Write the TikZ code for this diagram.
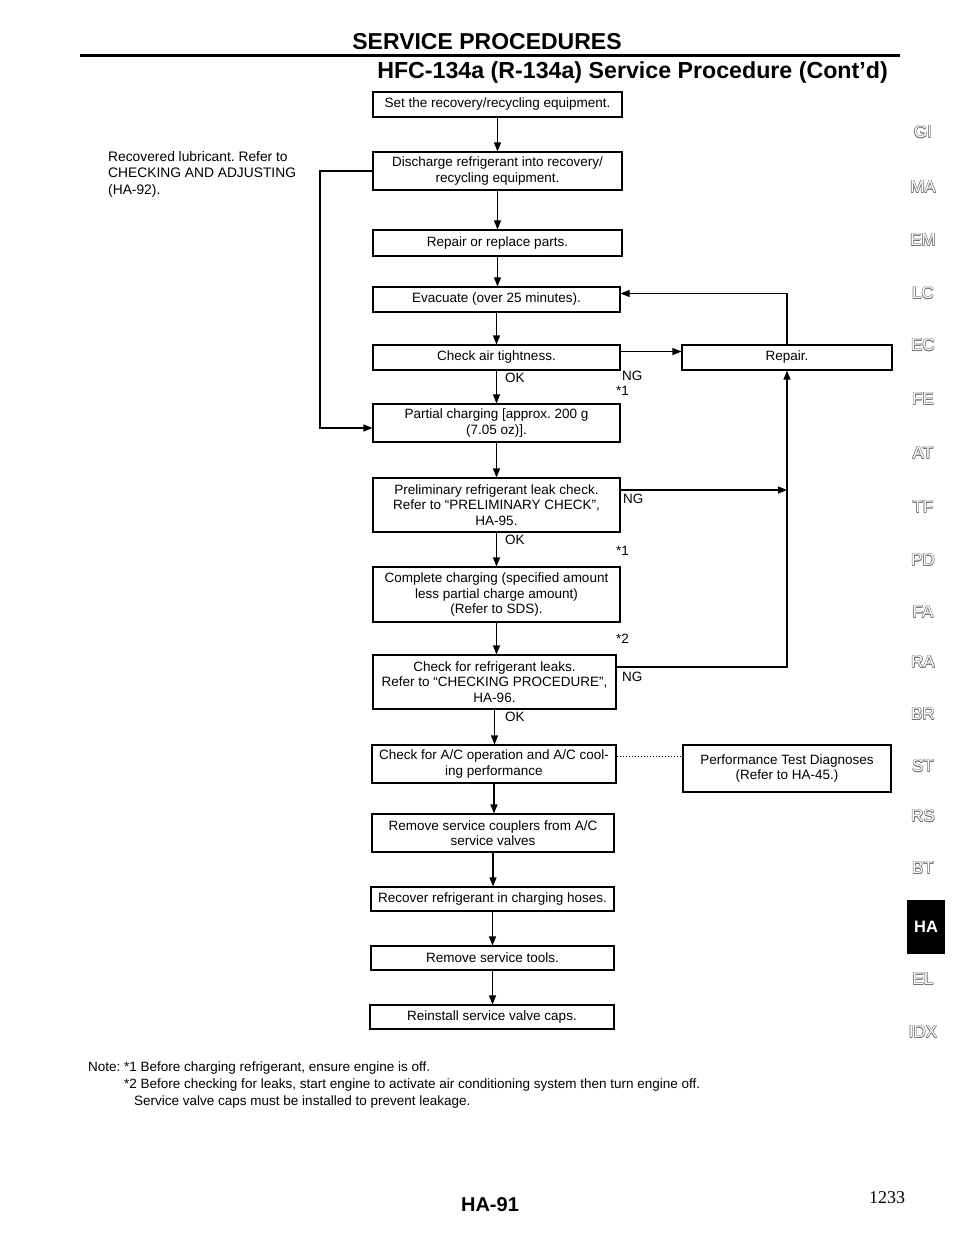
\documentclass[tikz,border=0pt]{standalone}
\usepackage{fontspec}
\setmainfont{Liberation Sans}
\newfontfamily\serifnum{Liberation Serif}
\usetikzlibrary{arrows.meta,calc}
\frenchspacing
\tikzset{
  box/.style={draw, line width=1.1pt, align=center, inner sep=0pt,
    font=\fontsize{13.5}{15.5}\selectfont},
  arr/.style={line width=1.1pt, -{Triangle[length=9pt,width=7pt]}},
  ln/.style={line width=1.1pt},
  lbl/.style={font=\fontsize{13.5}{15.5}\selectfont, inner sep=0pt, text height=10pt, text depth=3pt},
  tabtext/.style={font=\fontsize{17}{17}\selectfont, inner sep=0pt},
}
\newcommand{\tabmark}[3]{%
  \foreach \dx/\dy in {0.55/0,-0.55/0,0/0.55,0/-0.55,0.4/0.4,-0.4/0.4,0.4/-0.4,-0.4/-0.4}
    {\node[tabtext, text=black!55] at ([xshift=\dx pt,yshift=\dy pt]923,#2) {#3};}
  \node[tabtext, text=white] (#1) at (923,#2) {#3};}
\begin{document}
\begin{tikzpicture}[x=1pt,y=-1pt]
\useasboundingbox (0,0) rectangle (960,1242);
\fill[white] (0,0) rectangle (960,1242);

% header
\node[font=\fontsize{23}{23}\bfseries\selectfont, inner sep=0pt] (h1) at (487,42) {SERVICE PROCEDURES};
\draw[line width=3pt] (80,55) -- (900,55);
\node[font=\fontsize{23.2}{23.2}\bfseries\selectfont, inner sep=0pt, anchor=east] (h2) at (888,73) {HFC-134a (R-134a) Service Procedure (Cont'd)};

% boxes
\node[box, minimum width=249pt, minimum height=25pt] (b1) at (497.5,104.5) {Set the recovery/recycling equipment.};
\node[box, minimum width=249pt, minimum height=38pt] (b2) at (497.5,171) {Discharge refrigerant into recovery/\\recycling equipment.};
\node[box, minimum width=249pt, minimum height=26pt] (b3) at (497.5,243) {Repair or replace parts.};
\node[box, minimum width=247pt, minimum height=25pt] (b4) at (496.5,299.5) {Evacuate (over 25 minutes).};
\node[box, minimum width=247pt, minimum height=25pt] (b5) at (496.5,357.5) {Check air tightness.};
\node[box, minimum width=210pt, minimum height=25pt] (rep) at (787,357.5) {Repair.};
\node[box, minimum width=247pt, minimum height=38pt] (b6) at (496.5,423) {Partial charging [approx. 200 g\\(7.05 oz)].};
\node[box, minimum width=247pt, minimum height=54pt] (b7) at (496.5,505) {Preliminary refrigerant leak check.\\Refer to “PRELIMINARY CHECK”,\\HA-95.};
\node[box, minimum width=247pt, minimum height=55pt] (b8) at (496.5,594.5) {Complete charging (specified amount\\less partial charge amount)\\(Refer to SDS).};
\node[box, minimum width=243pt, minimum height=54pt] (b9) at (494.5,682) {Check for refrigerant leaks.\\Refer to “CHECKING PROCEDURE”,\\HA-96.};
\node[box, minimum width=244pt, minimum height=38pt] (b10) at (494,764) {Check for A/C operation and A/C cool-\\ing performance};
\node[box, minimum width=208pt, minimum height=47pt] (perf) at (787,768.5) {Performance Test Diagnoses\\(Refer to HA-45.)};
\node[box, minimum width=242pt, minimum height=38pt] (b11) at (493,833) {Remove service couplers from A/C\\service valves};
\node[box, minimum width=243pt, minimum height=24pt] (b12) at (492.5,899) {Recover refrigerant in charging hoses.};
\node[box, minimum width=243pt, minimum height=24pt] (b13) at (492.5,958) {Remove service tools.};
\node[box, minimum width=244pt, minimum height=24pt] (b14) at (492,1017) {Reinstall service valve caps.};

% left note
\node[inner sep=0pt, anchor=north west, align=left, font=\fontsize{13.8}{16.5}\selectfont] (lnote) at (108,151) {Recovered lubricant. Refer to\\CHECKING AND ADJUSTING\\(HA-92).};

% main arrows
\draw[arr] (b1.south) -- (b1.south |- b2.north);
\draw[arr] (b2.south) -- (b2.south |- b3.north);
\draw[arr] (b3.south) -- (b3.south |- b4.north);
\draw[arr] (b4.south) -- (b4.south |- b5.north);
\draw[arr] (b5.south) -- (b5.south |- b6.north);
\draw[arr] (b6.south) -- (b6.south |- b7.north);
\draw[arr] (b7.south) -- (b7.south |- b8.north);
\draw[arr] (b8.south) -- (b8.south |- b9.north);
\draw[arr] (b9.south) -- (b9.south |- b10.north);
\draw[arr] (b10.south) -- (b10.south |- b11.north);
\draw[arr] (b11.south) -- (b11.south |- b12.north);
\draw[arr] (b12.south) -- (b12.south |- b13.north);
\draw[arr] (b13.south) -- (b13.south |- b14.north);

% side connectors
\coordinate (lx) at (320,171);
\draw[arr] (b2.west) -- (lx) |- ([yshift=-5pt]b6.west);
\draw[arr] ([yshift=6pt]b5.east) -- ([yshift=6pt]b5.east -| rep.west);
\draw[arr] (rep.north) |- ([yshift=6pt]b4.east);
\draw[arr] ([yshift=15pt]b9.east) -| (rep.south);
\draw[arr] ([yshift=15pt]b7.east) -- ([yshift=15pt]b7.east -| rep.south);
\draw[line width=1pt, dotted] ([yshift=8pt]b10.east) -- ([yshift=8pt]b10.east -| perf.west);

% labels
\node[lbl, anchor=west] (ok1) at (505,379) {OK};
\node[lbl, anchor=west] (ng1) at (622,377) {NG};
\node[lbl, anchor=west] (s1a) at (616,392) {*1};
\node[lbl, anchor=west] (ng2) at (623,500) {NG};
\node[lbl, anchor=west] (ok2) at (505,541) {OK};
\node[lbl, anchor=west] (s1b) at (616,552) {*1};
\node[lbl, anchor=west] (s2) at (616,640) {*2};
\node[lbl, anchor=west] (ng3) at (622,678) {NG};
\node[lbl, anchor=west] (ok3) at (505,718) {OK};

% notes
\node[lbl, anchor=west] (nt) at (88,1068) {Note:};
\node[lbl, anchor=west] (n1) at (124,1068) {*1 Before charging refrigerant, ensure engine is off.};
\node[lbl, anchor=west] (n2) at (124,1085) {*2 Before checking for leaks, start engine to activate air conditioning system then turn engine off.};
\node[lbl, anchor=west] (n3) at (134,1102) {Service valve caps must be installed to prevent leakage.};

% footer
\node[font=\fontsize{20}{20}\bfseries\selectfont, inner sep=0pt] (pg) at (490,1205) {HA-91};
\node[font=\fontsize{18}{18}\serifnum\selectfont, inner sep=0pt] (pn) at (887,1198) {1233};

% tabs
\tabmark{tGI}{132}{GI}
\tabmark{tMA}{187}{MA}
\tabmark{tEM}{240}{EM}
\tabmark{tLC}{293}{LC}
\tabmark{tEC}{345}{EC}
\tabmark{tFE}{399}{FE}
\tabmark{tAT}{453}{AT}
\tabmark{tTF}{507}{TF}
\tabmark{tPD}{560}{PD}
\tabmark{tFA}{612}{FA}
\tabmark{tRA}{662}{RA}
\tabmark{tBR}{714}{BR}
\tabmark{tST}{766}{ST}
\tabmark{tRS}{816}{RS}
\tabmark{tBT}{868}{BT}
\node[fill=black, minimum width=38pt, minimum height=54pt, inner sep=0pt, text=white, font=\fontsize{16.5}{16.5}\bfseries\selectfont] (tHA) at (926,927) {HA};
\tabmark{tEL}{979}{EL}
\tabmark{tIDX}{1032}{IDX}
\end{tikzpicture}
\end{document}
